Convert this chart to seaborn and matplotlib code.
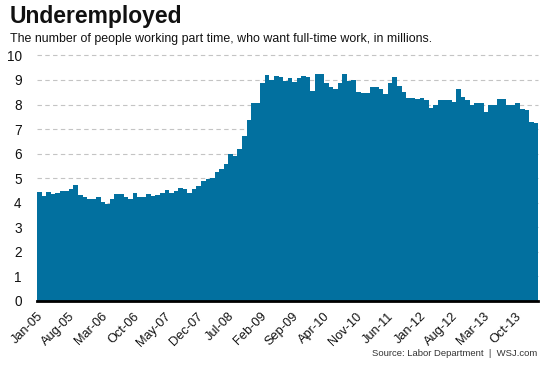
import matplotlib
matplotlib.use("Agg")
import matplotlib.pyplot as plt
import seaborn as sns
import pandas as pd

# Monthly data, Jan-2005 .. Feb-2014 (millions)
months = pd.date_range("2005-01-01", periods=110, freq="MS").strftime("%b-%y").tolist()
values = [
    4.44, 4.27, 4.44, 4.35, 4.37, 4.48, 4.46, 4.55, 4.73, 4.31, 4.24, 4.16,   # 2005
    4.16, 4.22, 4.03, 3.95, 4.16, 4.36, 4.36, 4.24, 4.16, 4.40, 4.24, 4.24,   # 2006
    4.35, 4.28, 4.31, 4.37, 4.51, 4.40, 4.46, 4.61, 4.55, 4.39, 4.54, 4.67,   # 2007
    4.87, 4.97, 4.98, 5.26, 5.35, 5.58, 5.97, 5.90, 6.20, 6.73, 7.36, 8.08,   # 2008
    8.08, 8.86, 9.20, 9.00, 9.16, 9.11, 8.97, 9.07, 8.90, 9.07, 9.16, 9.14,   # 2009
    8.55, 9.24, 9.24, 8.89, 8.70, 8.62, 8.86, 9.24, 8.97, 9.00, 8.50, 8.46,   # 2010
    8.48, 8.70, 8.70, 8.62, 8.41, 8.89, 9.11, 8.75, 8.52, 8.25, 8.28, 8.21,   # 2011
    8.28, 8.18, 7.84, 7.98, 8.18, 8.18, 8.18, 8.09, 8.62, 8.29, 8.18, 8.00,   # 2012
    8.05, 8.05, 7.70, 8.00, 8.00, 8.22, 8.22, 7.98, 7.98, 8.07, 7.80, 7.78,   # 2013
    7.30, 7.23,                                                               # 2014
]
tick_labels = ["Jan-05", "Aug-05", "Mar-06", "Oct-06", "May-07", "Dec-07",
               "Jul-08", "Feb-09", "Sep-09", "Apr-10", "Nov-10", "Jun-11",
               "Jan-12", "Aug-12", "Mar-13", "Oct-13"]
y_ticks = [0, 1, 2, 3, 4, 5, 6, 7, 8, 9, 10]

title = "Underemployed"
subtitle = "The number of people working part time, who want full-time work, in millions."
source = "Source: Labor Department  |  WSJ.com"

df = pd.DataFrame({"month": months, "value": values})

sns.set_style("white")
plt.rcParams["font.family"] = ["Liberation Sans", "DejaVu Sans"]

fig = plt.figure(figsize=(5.53, 3.69), dpi=100)
ax = fig.add_axes([0.0669, 0.1856, 0.9064, 0.6640])

sns.barplot(data=df, x="month", y="value", color="#02709F", width=1.0,
            linewidth=0, edgecolor="none", saturation=1, ax=ax, zorder=2)

ax.set_xlim(-0.5, len(values) - 0.5)
ax.set_ylim(0, 10)
ax.set_yticks(y_ticks)
ax.set_yticklabels([str(t) for t in y_ticks], fontsize=9.8, color="#111111")
tick_pos = [months.index(lbl) - 0.5 for lbl in tick_labels]
ax.set_xticks(tick_pos)
ax.set_xticklabels(tick_labels, rotation=45, ha="right", rotation_mode="anchor",
                   fontsize=9.2, color="#111111")
ax.set_xlabel("")
ax.set_ylabel("")

for s in ["left", "right", "top"]:
    ax.spines[s].set_visible(False)
ax.spines["bottom"].set_color("black")
ax.spines["bottom"].set_linewidth(2.0)
ax.spines["bottom"].set_zorder(3)

ax.tick_params(axis="x", direction="out", length=4, width=1.5, color="black", pad=3)
ax.tick_params(axis="y", length=0, pad=11)

for t in y_ticks[1:]:
    ax.axhline(t, color="#c4c4c4", linestyle=(0, (4, 3)), linewidth=0.8, zorder=1,
               clip_on=False)

fig.text(0.018, 0.937, title, fontsize=16.5, fontweight="bold", ha="left",
         va="baseline", color="#111111")
fig.text(0.018, 0.887, subtitle, fontsize=8.9, ha="left", va="baseline", color="#111111")
fig.text(0.972, 0.035, source, fontsize=6.8, ha="right", va="baseline", color="#333333")

fig.savefig("out.png", dpi=100)
